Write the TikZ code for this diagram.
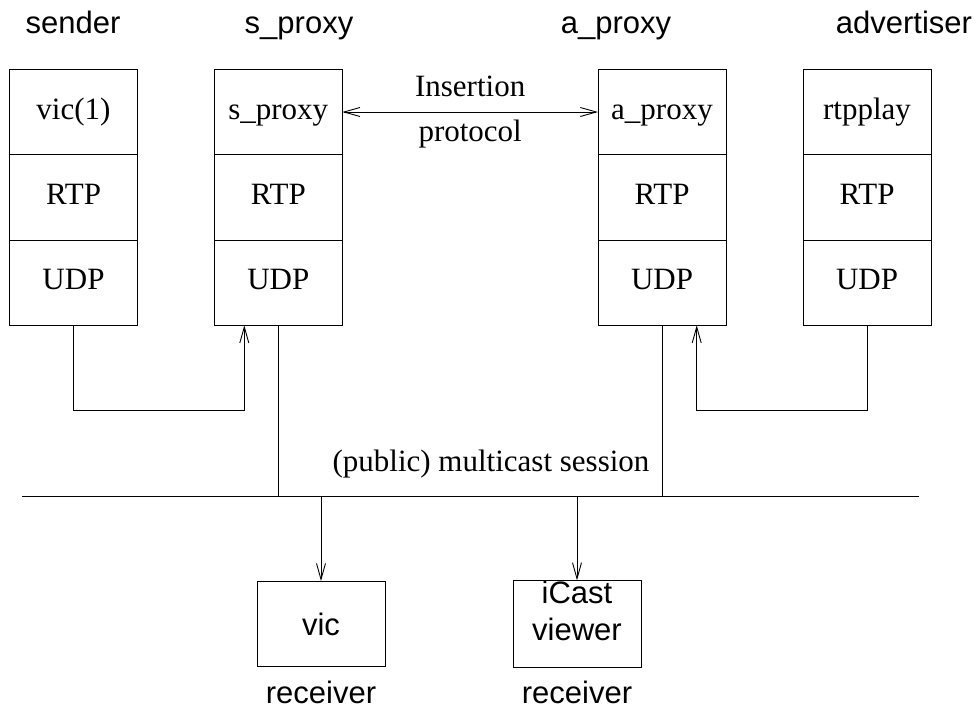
\documentclass[tikz,border=0pt]{standalone}
\usepackage{fontspec}
\setmainfont{Liberation Serif}
\setsansfont{Liberation Sans}
\usetikzlibrary{arrows.meta, calc, positioning}

\begin{document}
\begin{tikzpicture}[x=1pt, y=-1pt, line width=0.9pt,
    layer/.style={draw, minimum width=128pt, minimum height=85.3pt, inner sep=0pt, outer sep=0pt, text height=21pt, text depth=7pt, font=\fontsize{31}{37}\selectfont},
    rxbox/.style={draw, minimum width=128pt, minimum height=85pt, inner sep=0pt, align=center, font=\sffamily\fontsize{31}{37}\selectfont},
    head/.style={font=\sffamily\fontsize{31}{37}\selectfont},
    txt/.style={font=\fontsize{31}{37}\selectfont},
    arr/.style={-{Straight Barb[length=16pt, width=9pt]}},
    dblarr/.style={{Straight Barb[length=16pt, width=9pt]}-{Straight Barb[length=16pt, width=9pt]}}]
    \useasboundingbox (0,0) rectangle (979,710);

    % Headers
    \node[head, anchor=base] (h-snd) at (73,33) {sender};
    \node[head, anchor=base] (h-sp) at (299,33) {s\_proxy};
    \node[head, anchor=base] (h-ap) at (616,33) {a\_proxy};
    \node[head, anchor=base] (h-adv) at (904,33) {advertiser};

    % Protocol stacks
    \foreach \n/\x/\app in {snd/73.5/vic(1), sp/278.3/s\_proxy, ap/662/a\_proxy, adv/867/rtpplay}
    {
    \node[layer] (\n-app) at (\x,112) {\app};
    \node[layer, below=0pt of \n-app] (\n-rtp) {RTP};
    \node[layer, below=0pt of \n-rtp] (\n-udp) {UDP};
    }

    % Insertion protocol
    \draw[dblarr] (sp-app.east) -- (ap-app.west)
        node[midway, above=11.5pt, txt] (ins) {Insertion}
        node[midway, below=4pt, txt] (prot) {protocol};

    % Local loops to the proxies
    \draw[arr] (snd-udp.south) -- ++(0,85.5) -| ([xshift=-34pt]sp-udp.south);
    \draw[arr] (adv-udp.south) -- ++(0,85.5) -| ([xshift=34.7pt]ap-udp.south);

    % Multicast session
    \coordinate (busL) at (22,496);
    \coordinate (busR) at (918.7,496);
    \draw (busL) -- (busR);
    \draw (sp-udp.south) -- (sp-udp.south |- busL);
    \draw (ap-udp.south) -- (ap-udp.south |- busL);
    \node[txt, anchor=base] (sess) at (491,471) {(public) multicast session};

    % Receivers
    \node[rxbox] (vic) at (321,624) {vic};
    \node[rxbox] (icast) at (577,624) {iCast\\viewer\\[-10pt]};
    \draw[arr] (vic.north |- busL) -- (vic);
    \draw[arr] (icast.north |- busL) -- (icast);
    \node[head, below=10pt of vic] (rx-vic) {receiver};
    \node[head, below=10pt of icast] (rx-icast) {receiver};

\end{tikzpicture}
\end{document}
